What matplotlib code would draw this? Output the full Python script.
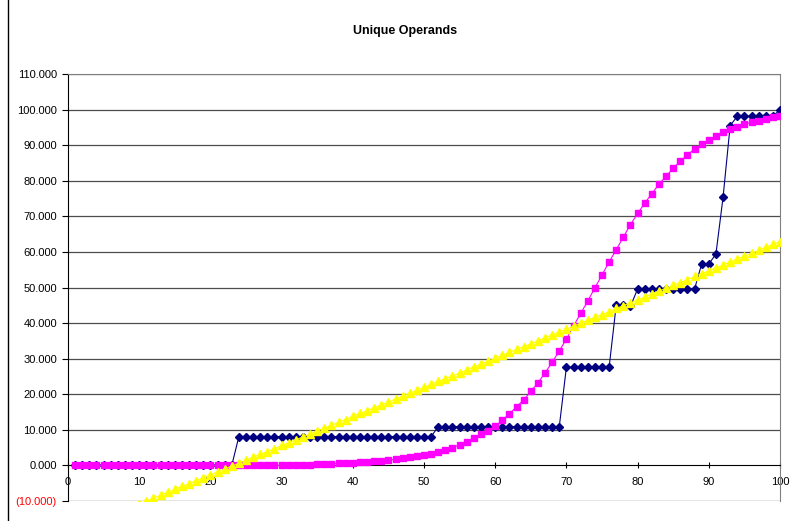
import matplotlib.pyplot as plt
from matplotlib.lines import Line2D

plt.rcParams['font.family'] = ['Liberation Sans', 'DejaVu Sans']

x = list(range(1, 101))

# dark blue diamonds (step-like)
blue = ([0.0] * 23 + [8.1] * 28 + [10.9] * 18 + [27.6] * 7
        + [45.1, 45.1, 44.7] + [49.6] * 9
        + [56.6, 56.6, 59.4, 75.3, 95.5] + [98.1] * 6 + [100.0])

# magenta squares (s-curve)
pink = ([0.0] * 31 +
        [0.1, 0.1, 0.2, 0.3, 0.4, 0.5, 0.6, 0.7, 0.8,
         0.9, 1.0, 1.2, 1.3, 1.5, 1.7, 2.0, 2.3, 2.6, 2.9,
         3.3, 3.8, 4.3, 5.0, 5.8, 6.6, 7.6, 8.7, 9.8, 11.0,
         12.7, 14.5, 16.5, 18.4, 20.8, 23.2, 26.0, 29.0, 32.2, 35.5,
         39.2, 42.7, 46.2, 49.9, 53.5, 57.2, 60.6, 64.2, 67.7, 70.8,
         73.7, 76.4, 79.0, 81.3, 83.5, 85.5, 87.3, 88.9, 90.2, 91.4,
         92.6, 93.6, 94.5, 95.2, 95.9, 96.4, 96.9, 97.4, 97.8, 98.3])

# yellow triangles (straight trend)
yellow = [-18.2, -17.4, -16.6, -15.7, -14.9, -14.1, -13.3, -12.5, -11.6, -10.8,
          -10.0, -9.2, -8.4, -7.5, -6.7, -5.9, -5.1, -4.3, -3.4, -2.6,
          -1.8, -1.0, -0.2, 0.6, 1.5, 2.3, 3.1, 3.9, 4.7, 5.6,
          6.4, 7.2, 8.0, 8.8, 9.7, 10.5, 11.3, 12.1, 12.9, 13.8,
          14.6, 15.4, 16.2, 17.0, 17.8, 18.7, 19.5, 20.3, 21.1, 21.9,
          22.8, 23.6, 24.4, 25.2, 26.0, 26.9, 27.7, 28.5, 29.3, 30.1,
          31.0, 31.8, 32.6, 33.4, 34.2, 35.0, 35.9, 36.7, 37.5, 38.3,
          39.1, 40.0, 40.8, 41.6, 42.4, 43.2, 44.1, 44.9, 45.7, 46.5,
          47.3, 48.2, 49.0, 49.8, 50.6, 51.4, 52.2, 53.1, 53.9, 54.7,
          55.5, 56.3, 57.2, 58.0, 58.8, 59.6, 60.4, 61.3, 62.1, 62.9]

yticks = list(range(-10, 111, 10))
xticks = list(range(0, 101, 10))

fig = plt.figure(figsize=(7.9, 5.21), dpi=100)
ax = fig.add_axes([68 / 790, 1 - 501 / 521, 712 / 790, 427 / 521])

for yv in yticks[1:]:
    if yv != 0:
        ax.axhline(yv, color='#4d4d4d', lw=0.9, zorder=1)
ax.axhline(-10, color='#808080', lw=1, zorder=1)

ax.plot(x, blue, color='#000080', lw=0.8, marker='D', ms=3.8, zorder=3)
ax.plot(x, pink, color='#ff00ff', lw=0.8, marker='s', ms=4.3, zorder=4)
ax.plot(x, yellow, color='#ffff00', lw=0.8, marker='^', ms=5.5, zorder=5)

ax.set_xlim(0, 100)
ax.set_ylim(-10, 110)

ax.spines['bottom'].set_position(('data', 0))
ax.spines['bottom'].set_color('black')
ax.spines['left'].set_color('black')
ax.spines['top'].set_color('#808080')
ax.spines['right'].set_color('#808080')

ax.set_xticks(xticks)
ax.set_xticklabels([str(v) for v in xticks], fontsize=8)
ax.tick_params(axis='x', direction='inout', length=5, pad=6)

ax.set_yticks(yticks)
labels = ['(%.3f)' % abs(v) if v < 0 else '%.3f' % v for v in yticks]
ax.set_yticklabels(labels, fontsize=8)
ax.tick_params(axis='y', direction='out', length=4, pad=4)
for lbl, v in zip(ax.get_yticklabels(), yticks):
    if v < 0:
        lbl.set_color('red')

fig.text(405 / 790, 1 - 31 / 521, 'Unique Operands', ha='center', va='center',
         fontsize=9, fontweight='bold')

fig.add_artist(Line2D([8 / 790, 8 / 790], [0, 1], transform=fig.transFigure,
                      color='black', lw=1))

fig.savefig('out.png', dpi=100)
